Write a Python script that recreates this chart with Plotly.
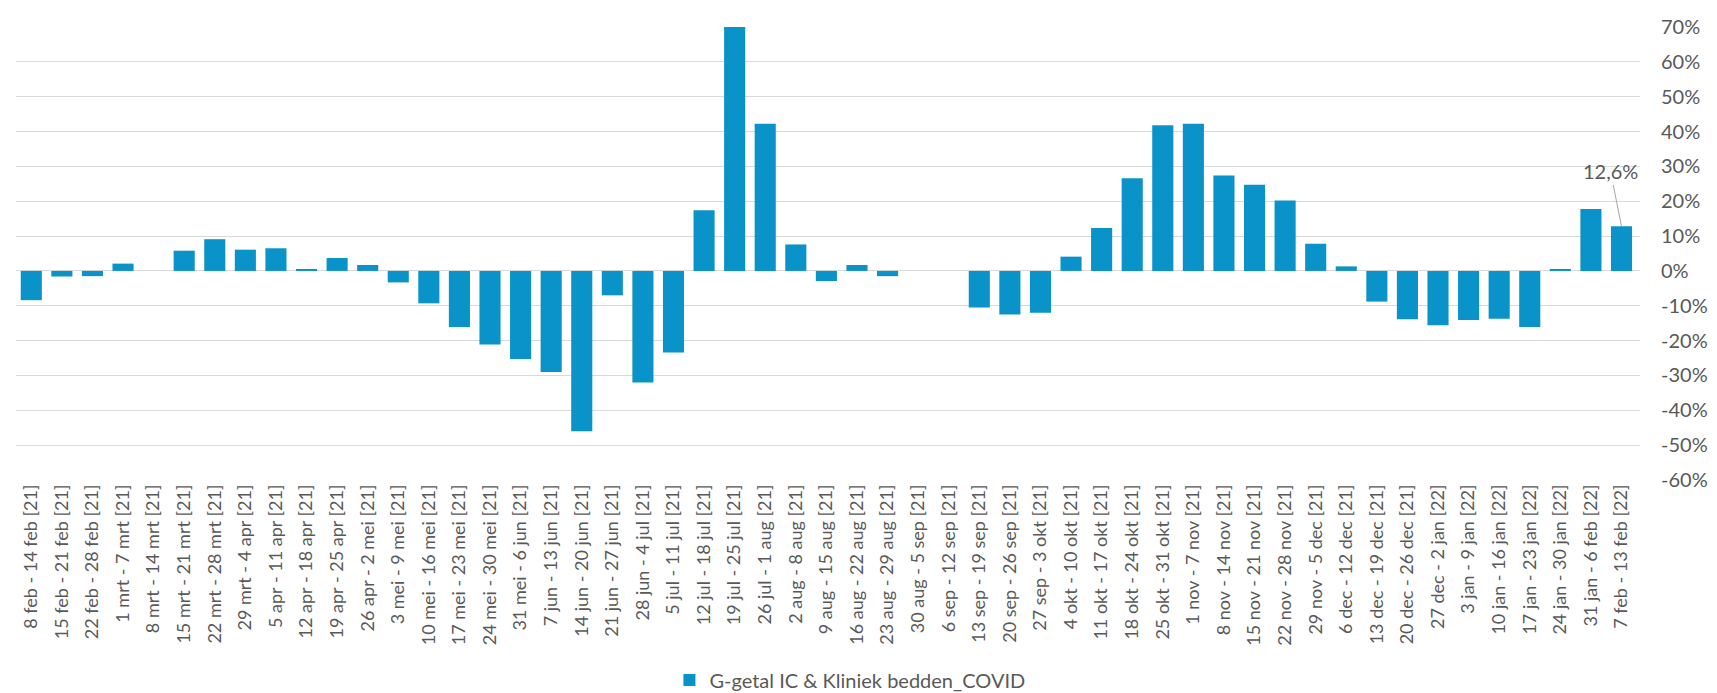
import plotly.graph_objects as go

weeks = [
    "8 feb - 14 feb [21]", "15 feb - 21 feb [21]", "22 feb - 28 feb [21]", "1 mrt - 7 mrt [21]",
    "8 mrt - 14 mrt [21]", "15 mrt - 21 mrt [21]", "22 mrt - 28 mrt [21]", "29 mrt - 4 apr [21]",
    "5 apr - 11 apr [21]", "12 apr - 18 apr [21]", "19 apr - 25 apr [21]", "26 apr - 2 mei [21]",
    "3 mei - 9 mei [21]", "10 mei - 16 mei [21]", "17 mei - 23 mei [21]", "24 mei - 30 mei [21]",
    "31 mei - 6 jun [21]", "7 jun - 13 jun [21]", "14 jun - 20 jun [21]", "21 jun - 27 jun [21]",
    "28 jun - 4 jul [21]", "5 jul - 11 jul [21]", "12 jul - 18 jul [21]", "19 jul - 25 jul [21]",
    "26 jul - 1 aug [21]", "2 aug - 8 aug [21]", "9 aug - 15 aug [21]", "16 aug - 22 aug [21]",
    "23 aug - 29 aug [21]", "30 aug - 5 sep [21]", "6 sep - 12 sep [21]", "13 sep - 19 sep [21]",
    "20 sep - 26 sep [21]", "27 sep - 3 okt [21]", "4 okt - 10 okt [21]", "11 okt - 17 okt [21]",
    "18 okt - 24 okt [21]", "25 okt - 31 okt [21]", "1 nov - 7 nov [21]", "8 nov - 14 nov [21]",
    "15 nov - 21 nov [21]", "22 nov - 28 nov [21]", "29 nov - 5 dec [21]", "6 dec - 12 dec [21]",
    "13 dec - 19 dec [21]", "20 dec - 26 dec [21]", "27 dec - 2 jan [22]", "3 jan - 9 jan [22]",
    "10 jan - 16 jan [22]", "17 jan - 23 jan [22]", "24 jan - 30 jan [22]", "31 jan - 6 feb [22]",
    "7 feb - 13 feb [22]",
]

g_getal = [
    -8.4, -1.6, -1.5, 2.1, 0.0, 5.8, 9.1, 6.1, 6.5, 0.3, 3.7, 1.7, -3.3, -9.3, -16.1, -21.1,
    -25.3, -29.0, -46.0, -7.0, -32.0, -23.4, 17.4, 70.0, 42.2, 7.6, -2.9, 1.7, -1.5, 0.0, 0.0,
    -10.5, -12.5, -12.0, 4.1, 12.3, 26.6, 41.8, 42.2, 27.4, 24.7, 20.2, 7.8, 1.3, -8.8, -13.9,
    -15.6, -14.1, -13.7, -16.1, 0.5, 17.8, 12.8,
]

series_name = "G-getal IC & Kliniek bedden_COVID"
last_label = "12,6%"

y_ticks = [70, 60, 50, 40, 30, 20, 10, 0, -10, -20, -30, -40, -50, -60]
y_ticktext = [f"{v}%" for v in y_ticks]

bar_color = "#0A93C8"
text_color = "#595959"
grid_color = "#D9D9D9"

fig = go.Figure()
fig.add_trace(go.Bar(
    x=weeks, y=g_getal, name=series_name, marker=dict(color=bar_color, line=dict(width=0)),
    showlegend=True,
))

fig.add_annotation(
    x=weeks[-1], y=g_getal[-1], text=last_label, showarrow=True, arrowhead=0,
    arrowwidth=1, arrowcolor="#A6A6A6", ax=-11, ay=-55,
    font=dict(family="Lato", size=20, color=text_color),
)

fig.update_layout(
    width=1717, height=693,
    margin=dict(l=8, r=85, t=19, b=221, autoexpand=False),
    paper_bgcolor="white", plot_bgcolor="white",
    bargap=0.31,
    font=dict(family="Lato", color=text_color),
    legend=dict(
        orientation="h", x=0.5135, xanchor="center", y=-0.4415, yanchor="middle",
        font=dict(family="Lato", size=20, color=text_color), itemclick=False,
    ),
    xaxis=dict(
        type="category", tickangle=-90, showgrid=False, showline=False, ticks="",
        tickfont=dict(family="Lato", size=18, color=text_color), automargin=False,
    ),
    yaxis=dict(
        side="right", range=[-60, 70], tickmode="array", tickvals=y_ticks, ticktext=y_ticktext,
        showgrid=True, gridcolor=grid_color, gridwidth=1.3, zeroline=True, zerolinecolor=grid_color,
        zerolinewidth=1.3, showline=False, ticks="", ticklabelstandoff=20,
        tickfont=dict(family="Lato", size=20, color=text_color), automargin=False,
    ),
)

fig.write_html("out.html")
